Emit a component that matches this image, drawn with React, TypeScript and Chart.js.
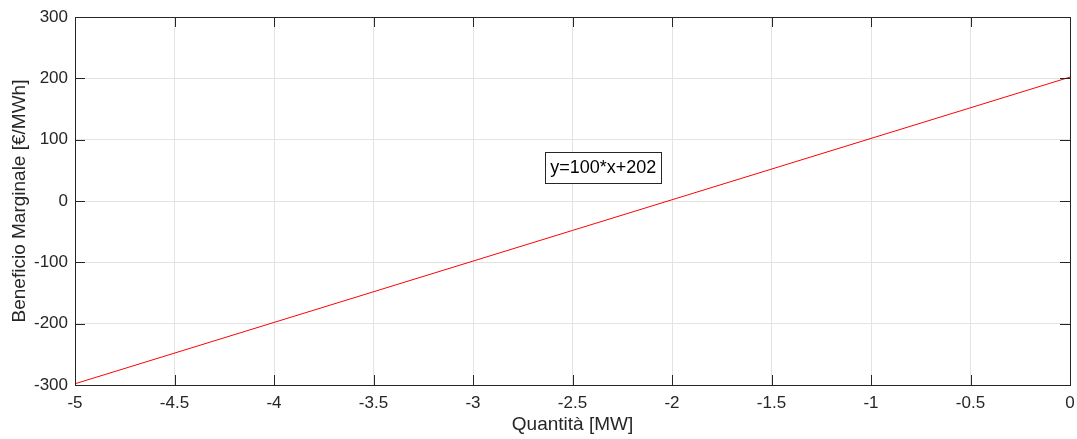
import React, { useEffect, useRef } from "react";
import { Chart, registerables } from "chart.js";

Chart.register(...registerables);

const xValues = [-5, 0];
const yValues = [-298, 202];
const xTickValues = [-5, -4.5, -4, -3.5, -3, -2.5, -2, -1.5, -1, -0.5, 0];
const yTickValues = [-300, -200, -100, 0, 100, 200, 300];
const annotationText = "y=100*x+202";
const annotationAt = { x: -2.64, y: 80 };
const xTitle = "Quantità [MW]";
const yTitle = "Beneficio Marginale [€/MWh]";

const FONT = "'Liberation Sans', Arial, Helvetica, sans-serif";

const framePlugin = {
  id: "frame",
  afterDatasetsDraw(chart: any) {
    const { ctx, chartArea } = chart;
    const { left, right, top, bottom } = chartArea;
    const xs = chart.scales.x;
    const ys = chart.scales.y;
    ctx.save();
    ctx.strokeStyle = "#262626";
    ctx.lineWidth = 1;
    const len = 10;
    ctx.beginPath();
    xTickValues.forEach((v) => {
      const px = Math.round(xs.getPixelForValue(v)) + 0.5;
      ctx.moveTo(px, bottom);
      ctx.lineTo(px, bottom - len);
      ctx.moveTo(px, top);
      ctx.lineTo(px, top + len);
    });
    yTickValues.forEach((v) => {
      const py = Math.round(ys.getPixelForValue(v)) + 0.5;
      ctx.moveTo(left, py);
      ctx.lineTo(left + len, py);
      ctx.moveTo(right, py);
      ctx.lineTo(right - len, py);
    });
    ctx.stroke();
    ctx.strokeRect(Math.round(left) + 0.5, Math.round(top) + 0.5, Math.round(right - left), Math.round(bottom - top));

    // annotation
    const ax = xs.getPixelForValue(annotationAt.x);
    const ay = ys.getPixelForValue(annotationAt.y);
    ctx.font = `18px ${FONT}`;
    const w = ctx.measureText(annotationText).width;
    const padX = 5;
    const h = 31;
    ctx.fillStyle = "#ffffff";
    ctx.fillRect(Math.round(ax) + 0.5, Math.round(ay) + 0.5, Math.round(w + 2 * padX), h);
    ctx.strokeStyle = "#262626";
    ctx.strokeRect(Math.round(ax) + 0.5, Math.round(ay) + 0.5, Math.round(w + 2 * padX), h);
    ctx.fillStyle = "#000000";
    ctx.textBaseline = "middle";
    ctx.textAlign = "left";
    ctx.fillText(annotationText, ax + padX + 0.5, ay + h / 2 + 1);
    ctx.restore();
  },
};

export default function App() {
  const ref = useRef<HTMLCanvasElement | null>(null);
  useEffect(() => {
    if (!ref.current) return;
    const chart = new Chart(ref.current, {
      type: "line",
      data: {
        datasets: [
          {
            data: xValues.map((x, i) => ({ x, y: yValues[i] })),
            borderColor: "#ff0000",
            borderWidth: 1,
            pointRadius: 0,
            fill: false,
            tension: 0,
          },
        ],
      },
      options: {
        responsive: false,
        animation: false,
        layout: { padding: { left: 0, top: 17, right: 7, bottom: 0 } },
        plugins: { legend: { display: false }, tooltip: { enabled: false } },
        scales: {
          x: {
            type: "linear",
            min: -5,
            max: 0,
            afterBuildTicks: (s: any) => {
              s.ticks = xTickValues.map((v) => ({ value: v }));
            },
            afterFit: (s: any) => {
              s.height = 54;
              s.paddingRight = 0;
              s.paddingLeft = 0;
            },
            grid: { color: "#e3e3e3", drawTicks: false },
            border: { display: false },
            ticks: {
              padding: 8,
              color: "#262626",
              font: { family: FONT, size: 17 },
              maxRotation: 0,
              autoSkip: false,
              callback: (v: any) => String(v),
            },
            title: {
              display: true,
              text: xTitle,
              color: "#262626",
              font: { family: FONT, size: 19 },
              padding: { top: 0, bottom: 3 },
            },
          },
          y: {
            type: "linear",
            min: -300,
            max: 300,
            afterBuildTicks: (s: any) => {
              s.ticks = yTickValues.map((v) => ({ value: v }));
            },
            afterFit: (s: any) => {
              s.width = 75;
              s.paddingTop = 0;
              s.paddingBottom = 0;
            },
            grid: { color: "#e3e3e3", drawTicks: false },
            border: { display: false },
            ticks: {
              padding: 7,
              color: "#262626",
              font: { family: FONT, size: 17 },
              autoSkip: false,
              callback: (v: any) => String(v),
            },
            title: {
              display: true,
              text: yTitle,
              color: "#262626",
              font: { family: FONT, size: 19 },
              padding: { top: 8, bottom: 0 },
            },
          },
        },
      },
      plugins: [framePlugin],
    });
    return () => chart.destroy();
  }, []);
  return (
    <div style={{ position: "absolute", left: 0, top: 0, width: 1077, height: 439, background: "#fff" }}>
      <canvas ref={ref} width={1077} height={439} />
    </div>
  );
}
